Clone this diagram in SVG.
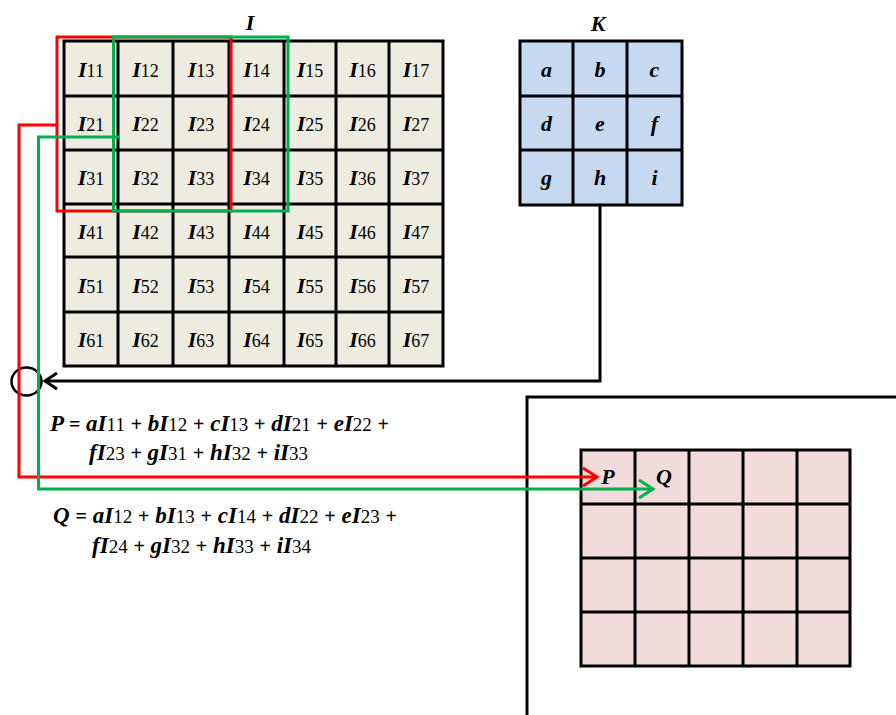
<svg xmlns="http://www.w3.org/2000/svg" width="896" height="715" viewBox="0 0 896 715">
<style>
text{font-family:"Liberation Serif","Times New Roman",serif;font-weight:bold;font-style:italic;fill:#000}
.c{font-size:22px;text-anchor:middle}
.n{font-style:normal;font-weight:normal;font-size:18px}
.e{font-size:23px}
.e .n{font-size:19px}
.op{font-style:normal;font-weight:bold;font-size:20px}
.grid{fill:none;stroke:#000;stroke-width:3;stroke-linejoin:miter}
.ln{fill:none;stroke-width:3}
</style>
<defs>
<marker id="ahR" markerUnits="userSpaceOnUse" markerWidth="20" markerHeight="24" refX="17" refY="12" orient="auto"><path d="M3,3 L17,12 L3,21" fill="none" stroke="#ff0000" stroke-width="3"/></marker>
<marker id="ahG" markerUnits="userSpaceOnUse" markerWidth="20" markerHeight="24" refX="17" refY="12" orient="auto"><path d="M3,3 L17,12 L3,21" fill="none" stroke="#00b050" stroke-width="3"/></marker>
<marker id="ahK" markerUnits="userSpaceOnUse" markerWidth="20" markerHeight="24" refX="17" refY="12" orient="auto"><path d="M5,4 L17,12 L5,20" fill="none" stroke="#000" stroke-width="3"/></marker>
</defs>

<g id="frame"><path d="M527,715 V397 H896" class="ln" stroke="#000"/></g>

<g id="grid-I">
<text class="c" x="250" y="30" font-size="23">I</text>
<rect x="64" y="41" width="379" height="325" fill="#eeece1"/>
<path class="grid" d="M64,41 H443 V366 H64 Z M118,41 V366 M173,41 V366 M229,41 V366 M284,41 V366 M336,41 V366 M389,41 V366 M64,96 H443 M64,150 H443 M64,204 H443 M64,257 H443 M64,312 H443"/>
<text class="c" x="91" y="76.5">I<tspan class="n">11</tspan></text>
<text class="c" x="145.5" y="76.5">I<tspan class="n">12</tspan></text>
<text class="c" x="201" y="76.5">I<tspan class="n">13</tspan></text>
<text class="c" x="256.5" y="76.5">I<tspan class="n">14</tspan></text>
<text class="c" x="310" y="76.5">I<tspan class="n">15</tspan></text>
<text class="c" x="362.5" y="76.5">I<tspan class="n">16</tspan></text>
<text class="c" x="416" y="76.5">I<tspan class="n">17</tspan></text>
<text class="c" x="91" y="131">I<tspan class="n">21</tspan></text>
<text class="c" x="145.5" y="131">I<tspan class="n">22</tspan></text>
<text class="c" x="201" y="131">I<tspan class="n">23</tspan></text>
<text class="c" x="256.5" y="131">I<tspan class="n">24</tspan></text>
<text class="c" x="310" y="131">I<tspan class="n">25</tspan></text>
<text class="c" x="362.5" y="131">I<tspan class="n">26</tspan></text>
<text class="c" x="416" y="131">I<tspan class="n">27</tspan></text>
<text class="c" x="91" y="185">I<tspan class="n">31</tspan></text>
<text class="c" x="145.5" y="185">I<tspan class="n">32</tspan></text>
<text class="c" x="201" y="185">I<tspan class="n">33</tspan></text>
<text class="c" x="256.5" y="185">I<tspan class="n">34</tspan></text>
<text class="c" x="310" y="185">I<tspan class="n">35</tspan></text>
<text class="c" x="362.5" y="185">I<tspan class="n">36</tspan></text>
<text class="c" x="416" y="185">I<tspan class="n">37</tspan></text>
<text class="c" x="91" y="239">I<tspan class="n">41</tspan></text>
<text class="c" x="145.5" y="239">I<tspan class="n">42</tspan></text>
<text class="c" x="201" y="239">I<tspan class="n">43</tspan></text>
<text class="c" x="256.5" y="239">I<tspan class="n">44</tspan></text>
<text class="c" x="310" y="239">I<tspan class="n">45</tspan></text>
<text class="c" x="362.5" y="239">I<tspan class="n">46</tspan></text>
<text class="c" x="416" y="239">I<tspan class="n">47</tspan></text>
<text class="c" x="91" y="292.5">I<tspan class="n">51</tspan></text>
<text class="c" x="145.5" y="292.5">I<tspan class="n">52</tspan></text>
<text class="c" x="201" y="292.5">I<tspan class="n">53</tspan></text>
<text class="c" x="256.5" y="292.5">I<tspan class="n">54</tspan></text>
<text class="c" x="310" y="292.5">I<tspan class="n">55</tspan></text>
<text class="c" x="362.5" y="292.5">I<tspan class="n">56</tspan></text>
<text class="c" x="416" y="292.5">I<tspan class="n">57</tspan></text>
<text class="c" x="91" y="347">I<tspan class="n">61</tspan></text>
<text class="c" x="145.5" y="347">I<tspan class="n">62</tspan></text>
<text class="c" x="201" y="347">I<tspan class="n">63</tspan></text>
<text class="c" x="256.5" y="347">I<tspan class="n">64</tspan></text>
<text class="c" x="310" y="347">I<tspan class="n">65</tspan></text>
<text class="c" x="362.5" y="347">I<tspan class="n">66</tspan></text>
<text class="c" x="416" y="347">I<tspan class="n">67</tspan></text>
</g>

<g id="window-P"><rect x="57" y="37" width="174" height="174" class="ln" stroke="#ff0000"/></g>
<g id="window-Q"><rect x="113.5" y="37" width="174.5" height="174" class="ln" stroke="#00b050"/></g>

<g id="kernel-K">
<text class="c" x="598" y="31" font-size="23">K</text>
<rect x="520" y="41" width="162" height="164" fill="#c6d9f1"/>
<path class="grid" d="M520,41 H682 V205 H520 Z M573,41 V205 M627,41 V205 M520,96 H682 M520,150 H682"/>
<text class="c" x="546.5" y="77">a</text>
<text class="c" x="600" y="77">b</text>
<text class="c" x="654.5" y="77">c</text>
<text class="c" x="546.5" y="131">d</text>
<text class="c" x="600" y="131">e</text>
<text class="c" x="654.5" y="131">f</text>
<text class="c" x="546.5" y="185">g</text>
<text class="c" x="600" y="185">h</text>
<text class="c" x="654.5" y="185">i</text>
</g>

<g id="sum-node"><ellipse cx="26.5" cy="381.5" rx="15" ry="14" fill="none" stroke="#000" stroke-width="2.5"/></g>

<g id="output">
<rect x="581" y="450" width="269" height="216" fill="#f2dcdb"/>
<path class="grid" d="M581,450 H850 V666 H581 Z M635,450 V666 M689,450 V666 M743,450 V666 M797,450 V666 M581,504 H850 M581,558 H850 M581,612 H850"/>
<text class="c" x="608" y="484">P</text>
<text class="c" x="664" y="484">Q</text>
</g>

<g id="connectors">
<path class="ln" stroke="#ff0000" d="M57,125 H19 V477 H597" marker-end="url(#ahR)"/>
<path class="ln" stroke="#00b050" d="M119,137 H38.5 V489 H653" marker-end="url(#ahG)"/>
<path class="ln" stroke="#000" d="M600,205 V381 H45" marker-end="url(#ahK)"/>
</g>

<g id="eq-P">
<text class="e" x="50" y="431" textLength="339" lengthAdjust="spacing">P <tspan class="op">=</tspan> aI<tspan class="n">11</tspan> <tspan class="op">+</tspan> bI<tspan class="n">12</tspan> <tspan class="op">+</tspan> cI<tspan class="n">13</tspan> <tspan class="op">+</tspan> dI<tspan class="n">21</tspan> <tspan class="op">+</tspan> eI<tspan class="n">22</tspan> <tspan class="op">+</tspan></text>
<text class="e" x="89" y="460" textLength="219" lengthAdjust="spacing">fI<tspan class="n">23</tspan> <tspan class="op">+</tspan> gI<tspan class="n">31</tspan> <tspan class="op">+</tspan> hI<tspan class="n">32</tspan> <tspan class="op">+</tspan> iI<tspan class="n">33</tspan></text>
</g>

<g id="eq-Q">
<text class="e" x="53" y="523" textLength="344" lengthAdjust="spacing">Q <tspan class="op">=</tspan> aI<tspan class="n">12</tspan> <tspan class="op">+</tspan> bI<tspan class="n">13</tspan> <tspan class="op">+</tspan> cI<tspan class="n">14</tspan> <tspan class="op">+</tspan> dI<tspan class="n">22</tspan> <tspan class="op">+</tspan> eI<tspan class="n">23</tspan> <tspan class="op">+</tspan></text>
<text class="e" x="92" y="553" textLength="219" lengthAdjust="spacing">fI<tspan class="n">24</tspan> <tspan class="op">+</tspan> gI<tspan class="n">32</tspan> <tspan class="op">+</tspan> hI<tspan class="n">33</tspan> <tspan class="op">+</tspan> iI<tspan class="n">34</tspan></text>
</g>
</svg>
